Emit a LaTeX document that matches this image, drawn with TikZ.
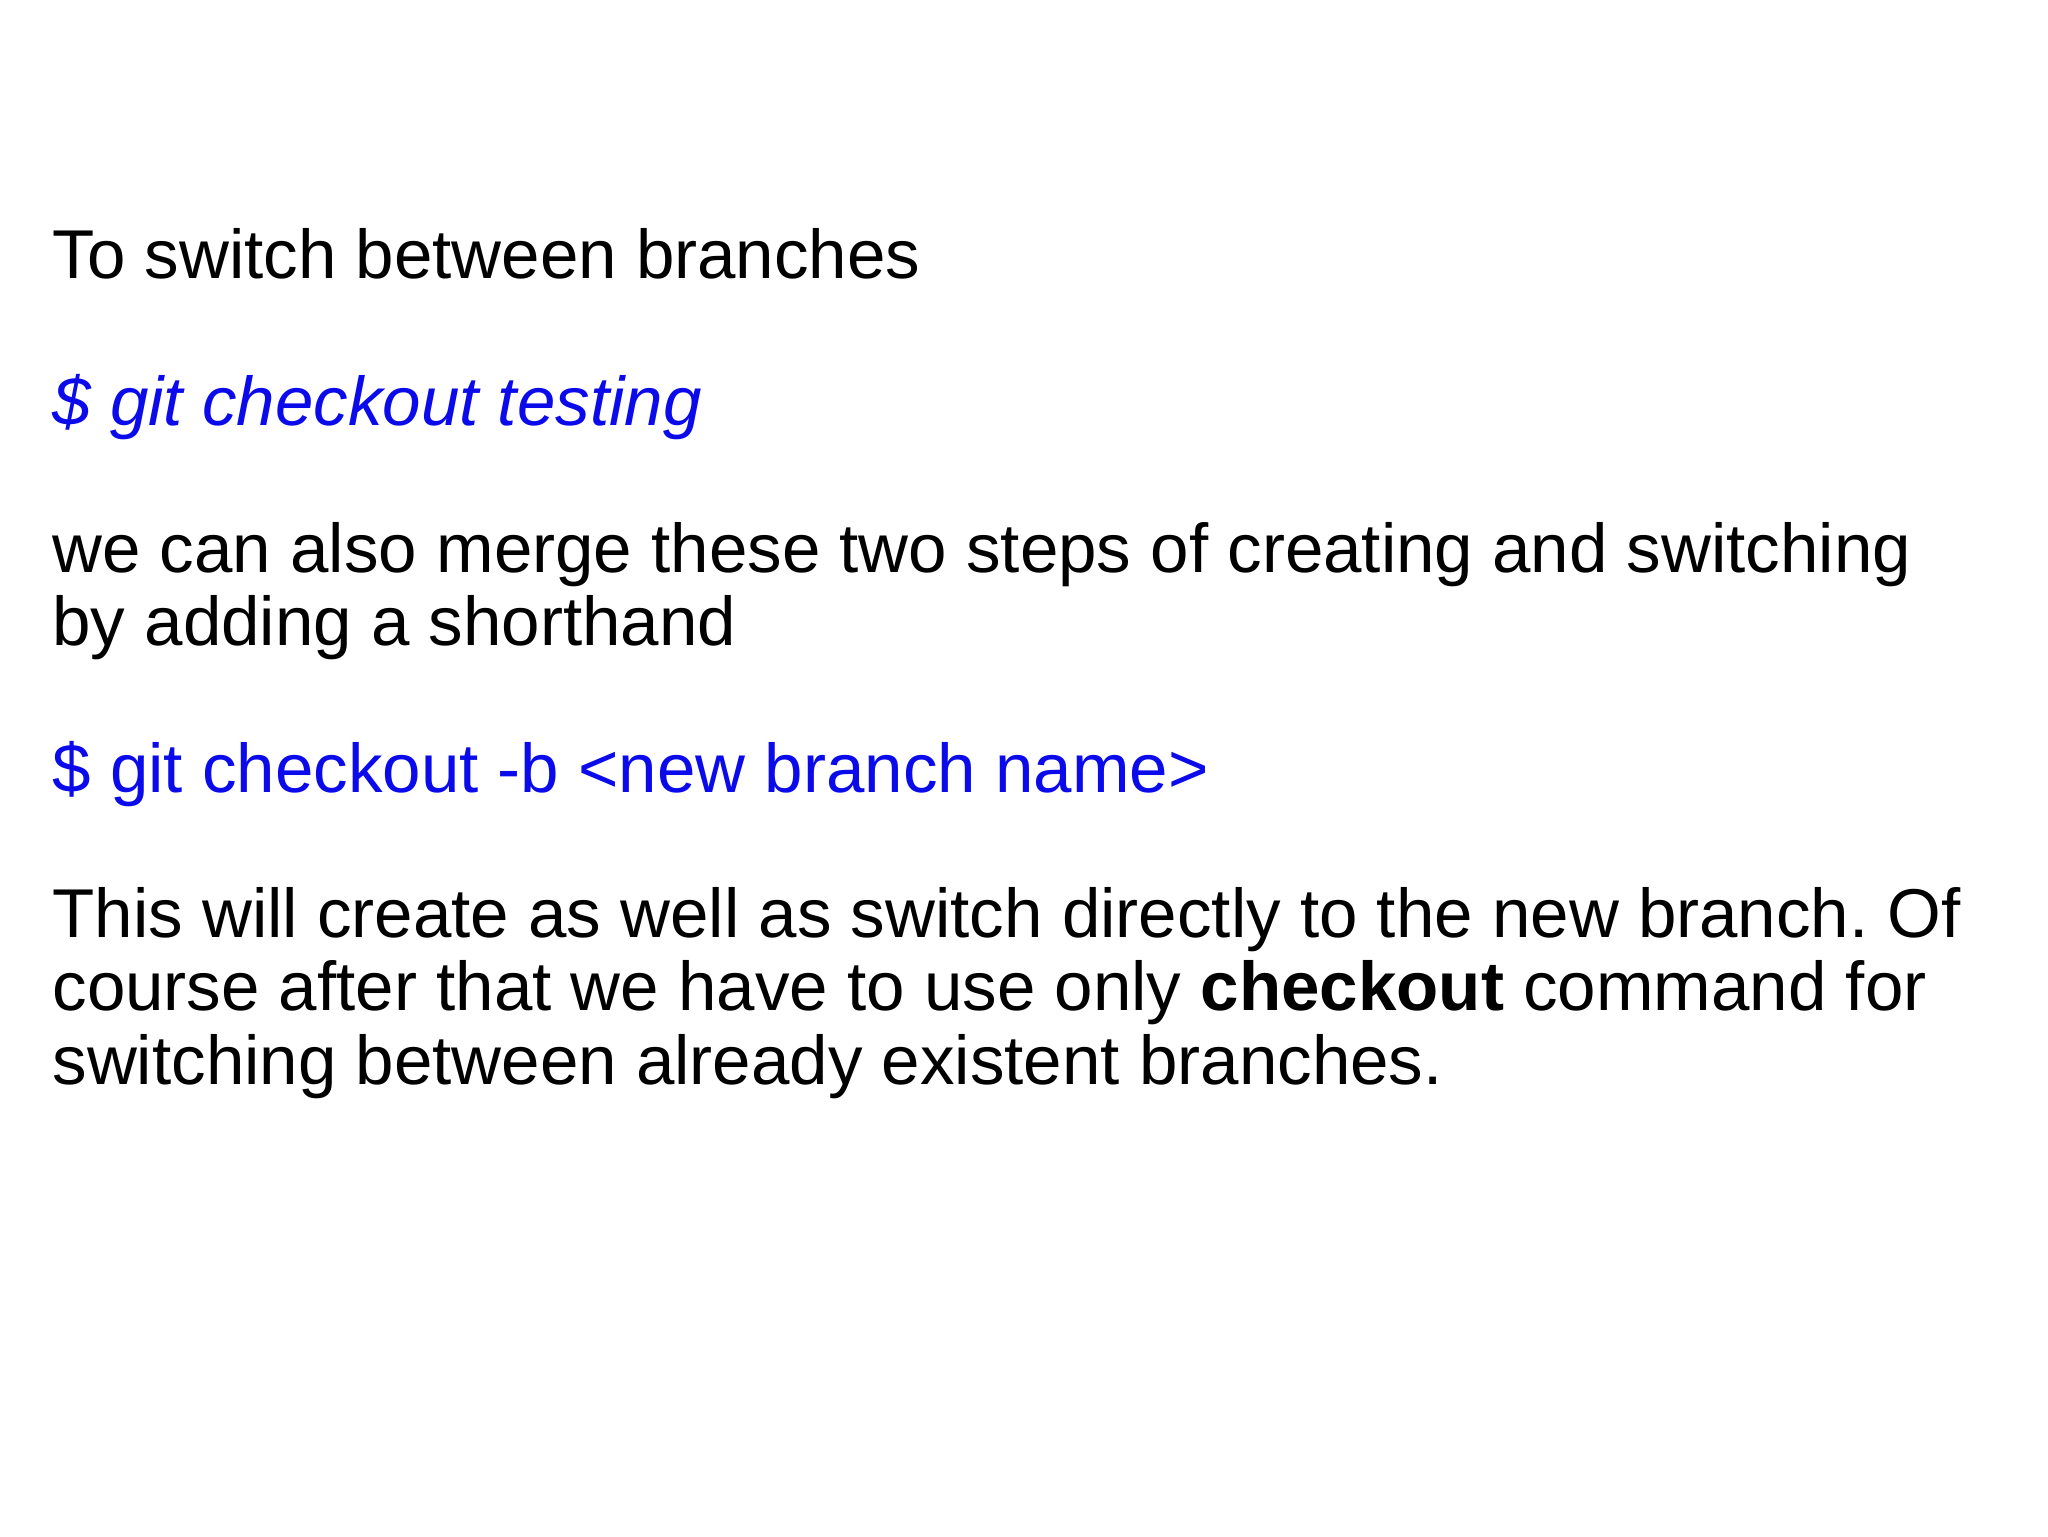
\documentclass[tikz,border=0pt]{standalone}
\usepackage{fontspec}
\setmainfont{Liberation Sans}
\definecolor{cmdblue}{RGB}{10,10,235}
\begin{document}
\frenchspacing
\begin{tikzpicture}[x=1pt,y=-1pt,
  txt/.style={anchor=base west,inner sep=0pt,font=\fontsize{52.9}{56}\selectfont},
  cmd/.style={txt,text=cmdblue}]
\useasboundingbox (0,0) rectangle (1568,1176);
\node[txt] (l1) at (40,213) {To switch between branches};
\node[cmd] (l2) at (40,326) {\itshape \$ git checkout testing};
\node[txt] (l3) at (40,438) {we can also merge these two steps of creating and switching};
\node[txt] (l4) at (40,494) {by adding a shorthand};
\node[cmd] (l5) at (40,607) {\$ git checkout -b <new branch name>};
\node[txt] (l6) at (40,718) {This will create as well as switch directly to the new branch. Of};
\node[txt] (l7) at (40,774) {course after that we have to use only \textbf{checkout} command for};
\node[txt] (l8) at (40,830) {switching between already existent branches.};
\end{tikzpicture}
\end{document}
